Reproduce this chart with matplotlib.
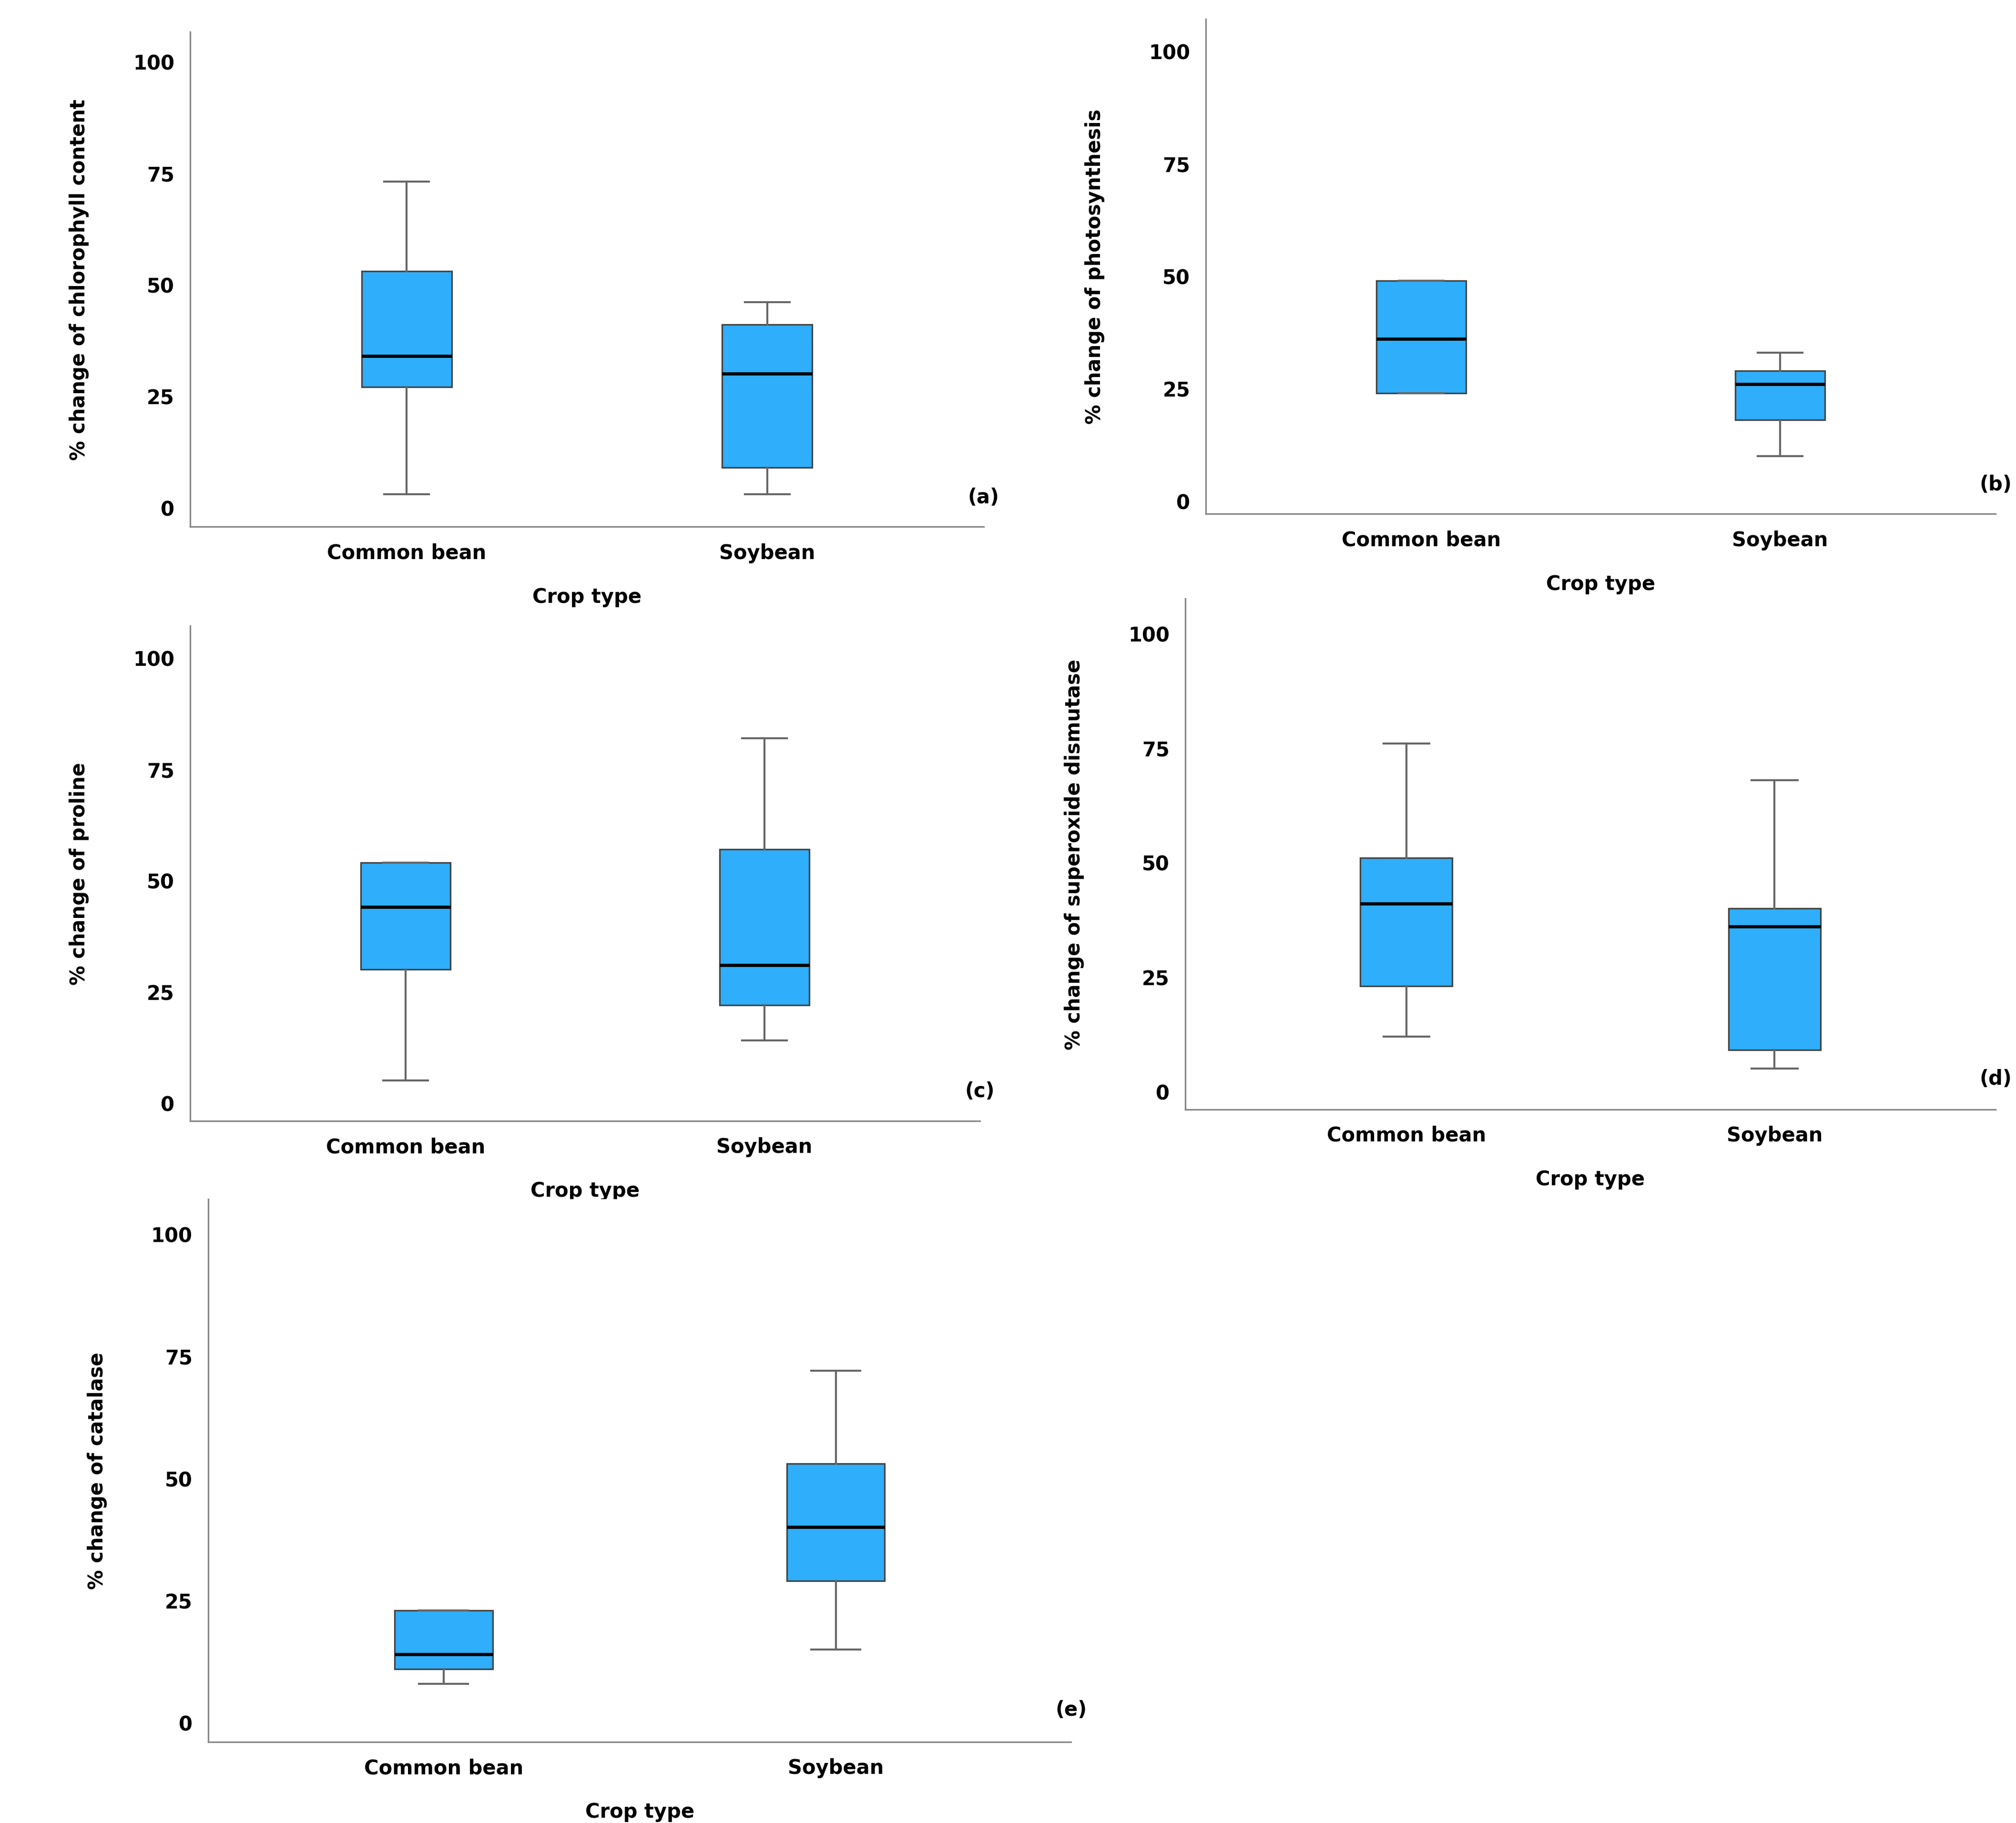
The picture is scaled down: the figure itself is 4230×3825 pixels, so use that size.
import matplotlib
matplotlib.use("Agg")
import matplotlib.pyplot as plt

W, H = 1568, 1418
BOX = "#2FAEFB"
crops = ["Common bean", "Soybean"]

# (whislo, q1, med, q3, whishi) per crop
chlorophyll = [(3, 27, 34, 53, 73), (3, 9, 30, 41, 46)]
photosynthesis = [(24, 24, 36, 49, 49), (10, 18, 26, 29, 33)]
proline = [(5, 30, 44, 54, 54), (14, 22, 31, 57, 82)]
sod = [(12, 23, 41, 51, 76), (5, 9, 36, 40, 68)]
catalase = [(8, 11, 14, 23, 23), (15, 29, 40, 53, 72)]

panels = [
    (chlorophyll, "% change of chlorophyll content", "(a)", (148, 25, 765, 410), (395, 48)),
    (photosynthesis, "% change of photosynthesis", "(b)", (938, 15, 1552, 400), (390, 40)),
    (proline, "% change of proline", "(c)", (148, 487, 762, 872), (858, 512)),
    (sod, "% change of superoxide dismutase", "(d)", (922, 466, 1552, 863), (849, 493)),
    (catalase, "% change of catalase", "(e)", (162, 933, 833, 1355), (1340, 960)),
]

fig = plt.figure(figsize=(14.1, 12.753), dpi=300)
plt.rcParams["font.family"] = "DejaVu Sans"

for data, ylabel, tag, (x0, y0, x1, y1), (p0, p100) in panels:
    ax = fig.add_axes([x0 / W, 1 - y1 / H, (x1 - x0) / W, (y1 - y0) / H])
    scale = (p0 - p100) / 100.0
    ax.set_ylim(-(y1 - p0) / scale, (p0 - y0) / scale)
    stats = [dict(whislo=a, q1=b, med=c, q3=d, whishi=e, fliers=[]) for a, b, c, d, e in data]
    ax.bxp(stats, positions=[1, 2], widths=0.25, patch_artist=True, showfliers=False,
           boxprops=dict(facecolor=BOX, edgecolor="#444444", linewidth=0.8),
           medianprops=dict(color="black", linewidth=1.6),
           whiskerprops=dict(color="#666666", linewidth=1.0),
           capprops=dict(color="#666666", linewidth=1.0))
    ax.set_xlim(0.4, 2.6)
    ax.set_xticks([1, 2])
    ax.set_xticklabels(crops, fontweight="bold", fontsize=10)
    ax.set_yticks([0, 25, 50, 75, 100])
    ax.set_yticklabels(["0", "25", "50", "75", "100"], fontweight="bold", fontsize=10)
    ax.tick_params(length=0, pad=8)
    for s in ("top", "right"):
        ax.spines[s].set_visible(False)
    for s in ("left", "bottom"):
        ax.spines[s].set_color("#888888")
    ax.set_ylabel(ylabel, fontweight="bold", fontsize=10, labelpad=22)
    ax.set_xlabel("Crop type", fontweight="bold", fontsize=10, labelpad=12)
    ax.text(1.0, 0.06, tag, transform=ax.transAxes, ha="center", va="center",
            fontweight="bold", fontsize=10)

fig.savefig("out.png", dpi=300, facecolor="white")
